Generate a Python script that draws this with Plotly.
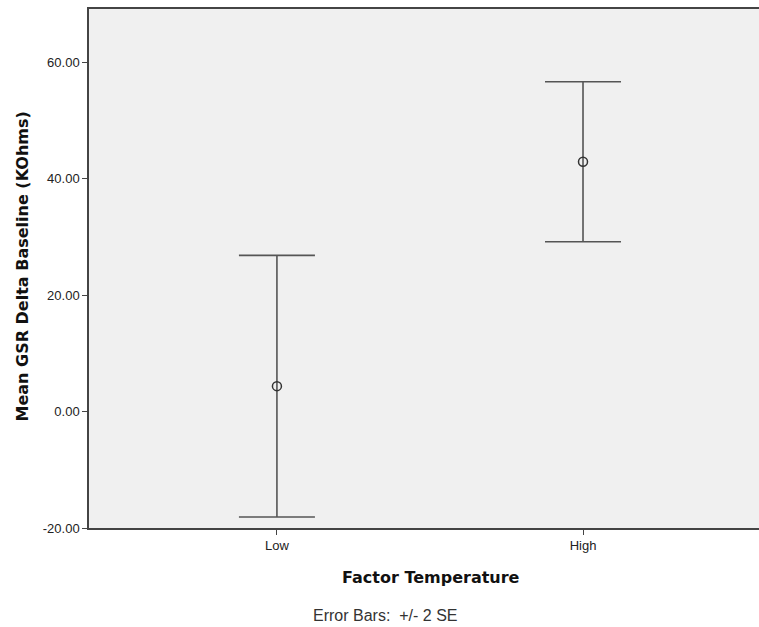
import plotly.graph_objects as go

# Mean GSR change from baseline by temperature level, with +/- 2 SE error bars
categories = ["Low", "High"]
means = [4.35, 42.87]
two_se = [22.45, 13.73]

y_ticks = [-20, 0, 20, 40, 60]
y_tick_labels = [f"{v:.2f}" for v in y_ticks]

fig = go.Figure()
fig.add_trace(go.Scatter(
    x=categories,
    y=means,
    mode="markers",
    marker=dict(symbol="circle-open", size=9, color="#333333", line=dict(width=1.5)),
    error_y=dict(type="data", array=two_se, visible=True, color="#555555",
                 thickness=1.6, width=38),
    showlegend=False,
    hoverinfo="skip",
))

sans = "Liberation Sans, Arial, sans-serif"
title_font = dict(family="DejaVu Sans, sans-serif", size=16, color="#111111")

# plot area in pixels: x 89..759, y 9..528
PL, PR, PT, PB = 89, 759, 9, 528


def px_x(x):
    return (x - PL) / (PR - PL)


def px_y(y):
    return (PB - y) / (PB - PT)


fig.update_layout(
    width=759,
    height=627,
    margin=dict(l=PL, r=759 - PR, t=PT, b=627 - PB),
    paper_bgcolor="white",
    plot_bgcolor="#f0f0f0",
    font=dict(family=sans, size=13, color="#333333"),
    xaxis=dict(
        type="category",
        range=[-0.614, 1.575],
        showgrid=False,
        zeroline=False,
        showline=True,
        mirror=True,
        linecolor="#444444",
        linewidth=1.5,
        ticks="outside",
        ticklen=5,
        tickcolor="#444444",
        tickfont=dict(size=13, color="#222222"),
    ),
    yaxis=dict(
        range=[-20, 69.1],
        tickmode="array",
        tickvals=y_ticks,
        ticktext=y_tick_labels,
        showgrid=False,
        zeroline=False,
        showline=True,
        linecolor="#444444",
        linewidth=1.5,
        ticks="outside",
        ticklen=5,
        tickcolor="#444444",
        tickfont=dict(size=13, color="#222222"),
    ),
    annotations=[
        dict(text="<b>Mean GSR Delta Baseline (KOhms)</b>", xref="paper", yref="paper",
             x=px_x(22), y=px_y(266.5), xanchor="center", yanchor="middle",
             textangle=-90, showarrow=False, font=title_font),
        dict(text="<b>Factor Temperature</b>", xref="paper", yref="paper",
             x=px_x(431), y=px_y(577), xanchor="center", yanchor="middle",
             showarrow=False, font=title_font),
        dict(text="Error Bars:&nbsp; +/- 2 SE", xref="paper", yref="paper",
             x=px_x(385), y=px_y(615), xanchor="center", yanchor="middle",
             showarrow=False, font=dict(family=sans, size=16, color="#333333")),
    ],
)

fig.write_html("out.html")
